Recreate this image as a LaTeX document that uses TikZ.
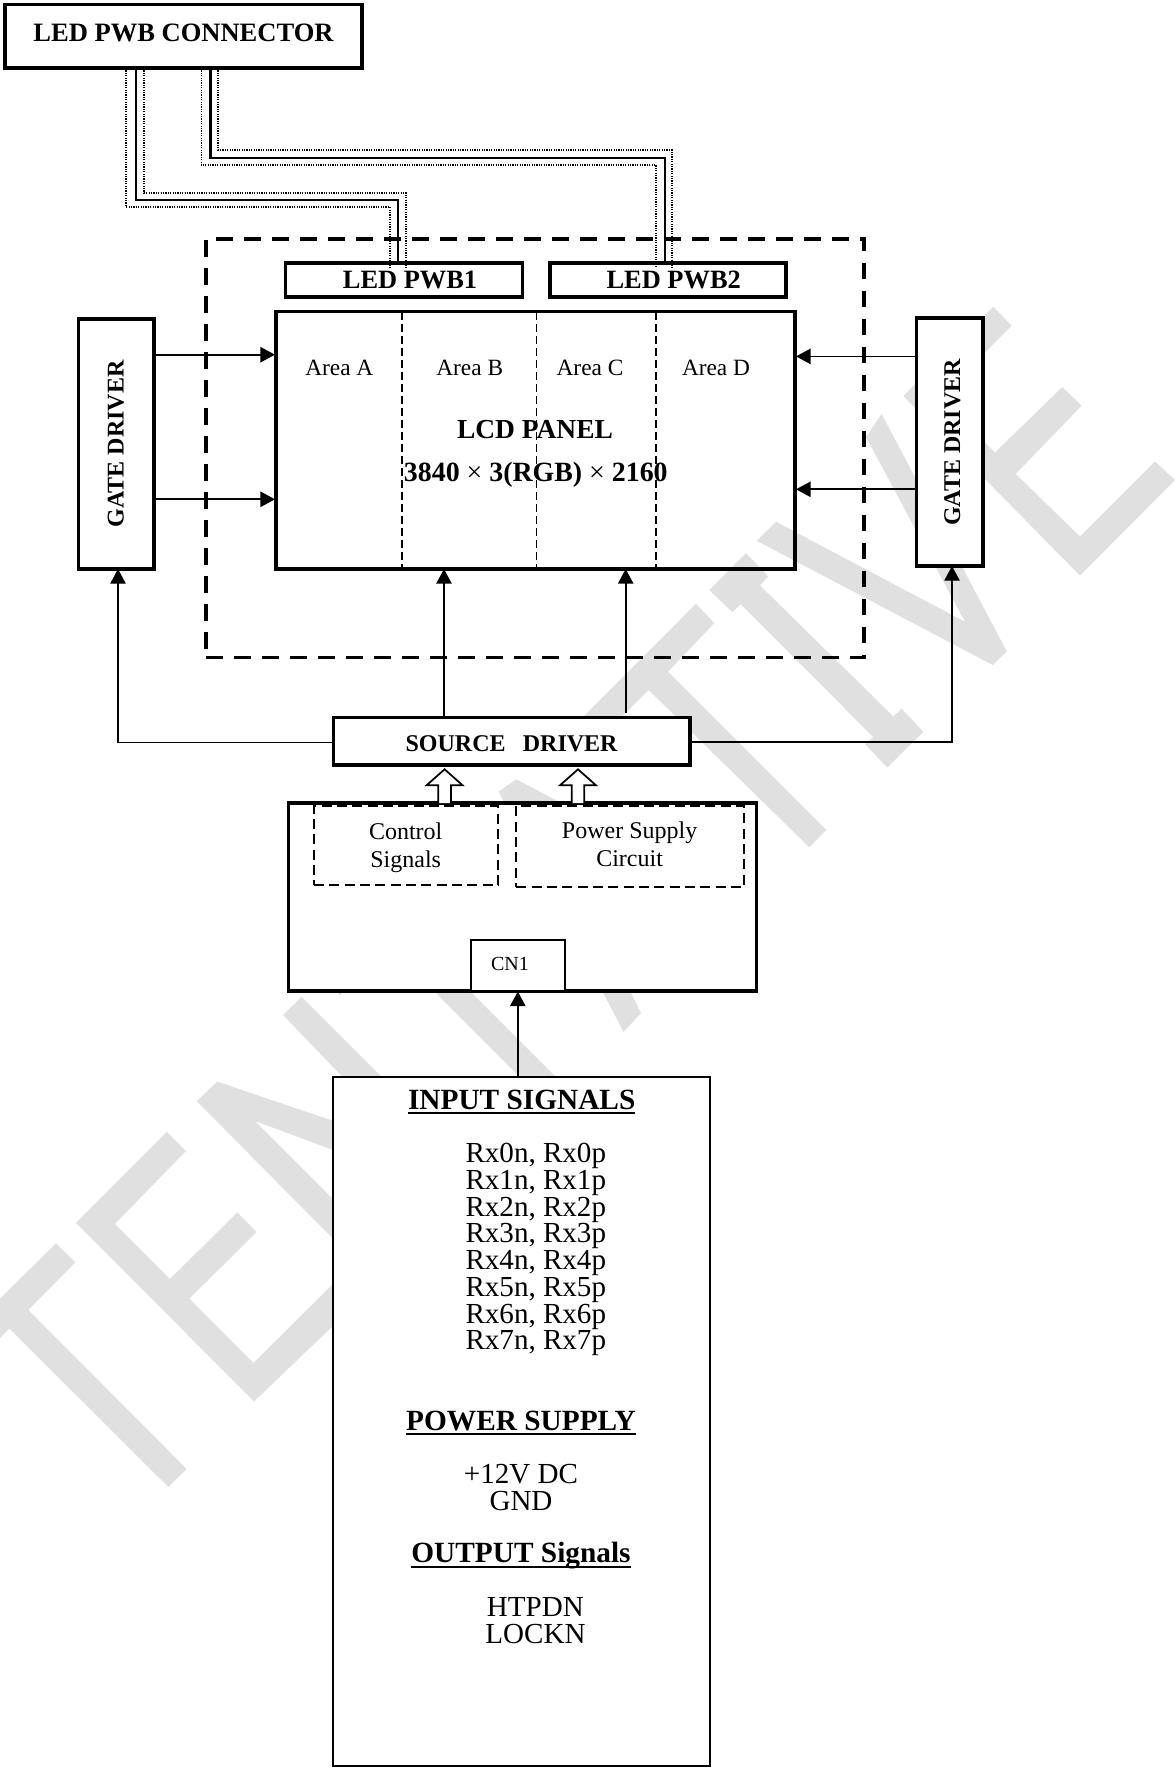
\documentclass[tikz,border=0pt]{standalone}
\usepackage{fontspec}
\setmainfont{Liberation Serif}
\usetikzlibrary{arrows.meta,calc}
\definecolor{wmgray}{RGB}{224,224,224}
\newcommand{\fsz}[1]{\fontsize{#1}{#1}\selectfont}
\newcommand{\ulx}[1]{\setbox0\hbox{#1}\rlap{\rule[-3.9pt]{\wd0}{1.5pt}}\box0}
\tikzset{
  wh/.style 2 args={minimum width=#1*0.75pt,minimum height=#2*0.75pt},
  allbox/.style={rectangle,inner sep=0pt,outer sep=0pt,draw=black},
  thickbox/.style={allbox,fill=white,line width=2.6pt},
  midbox/.style={allbox,fill=white,line width=2.6pt},
  thinbox/.style={allbox,fill=white,line width=1.4pt},
  outerdash/.style={allbox,line width=2.7pt,dash pattern=on 12.5pt off 8.5pt},
  innerdash/.style={allbox,line width=1.6pt,dash pattern=on 7.5pt off 4pt},
  areadash/.style={line width=1.1pt,dash pattern=on 6pt off 3pt},
  lab/.style={inner sep=0pt,outer sep=0pt,anchor=base},
  arr/.style={line width=1.3pt,-{Triangle[length=11pt,width=11.5pt]}},
  arrthin/.style={line width=1.0pt,-{Triangle[length=11pt,width=11.5pt]}},
  wire/.style={line width=1.7pt},
  dotwire/.style={line width=.8pt,dash pattern=on .9pt off .9pt},
  hollow/.style={line width=1.3pt,fill=white,draw=black},
  wm/.style={fill=wmgray,draw=none}
}
\begin{document}
\begin{tikzpicture}[x=0.75pt,y=-0.75pt]
\useasboundingbox (0,0) rectangle (1175,1769);
% watermark
\fill[wm] (0,1298.5)--(56,1243.4)--(75.3,1262.4)--(28.3,1310)--(186.7,1469)--(168.3,1487)--(9.3,1328.5)--(0,1338)--cycle;
\fill[wm] (166.7,1131.9)--(186,1151)--(115,1223.8)--(170,1278.9)--(237.3,1212.4)--(256.7,1232)--(189.3,1298.5)--(253.3,1363)--(345,1272)--(360,1300)--(254,1401.5)--(76,1222.8)--cycle;
\fill[wm] (217.3,1081.6)--(360,1130)--(360,1160)--(255,1121)--(360,1226)--(360,1266)--(196.7,1101.2)--cycle;
\fill[wm] (301.7,996.7)--(400,1095)--(360,1095)--(283,1015)--cycle;
\fill[wm] (340,995)--(389,946)--(540,1097)--(576,1097)--(410,931)--(445,895)--(426,876)--(321,976)--cycle;
\fill[wm] (696,603.7)--(714.4,623)--(668,671.7)--(826.4,830)--(809.3,847.3)--(648.6,690)--(601,737)--(582,718)--cycle;
\fill[wm] (516.4,779.3)--(752,904)--(733,923)--(545,822)--(641,1013)--(623.6,1032)--(498.6,791.7)--cycle;
\fill[wm] (746,553.2)--(768.3,576.4)--(760,585.4)--(893.3,716.4)--(901.7,708.6)--(923.3,731.8)--(887.3,767.5)--(865,744.3)--(873.3,737.1)--(740.7,604.3)--(732.3,612.1)--(709.3,590)--cycle;
\fill[wm] (881.7,414)--(1006.7,651.4)--(992.7,665)--(756.7,540.7)--(776,521.8)--(965,621.8)--(866,437)--cycle;
\fill[wm] (993.3,306.8)--(1011.7,325.7)--(940,397.4)--(995,452.5)--(1062.3,387)--(1081.7,405.7)--(1015.7,473.9)--(1080,536.4)--(1155,461.4)--(1175,480)--(1080,575.7)--(903.3,396)--cycle;

% frames
\node[outerdash,wh={658}{418.5}] (region) at (535,448.2) {};
\node[thickbox,wh={357.2}{63.3}] (conn) at (183.4,36.35) {};
\node[midbox,wh={237}{34}] (pwbA) at (404,280) {};
\node[midbox,wh={236}{34}] (pwbB) at (668,280) {};
\node[allbox,line width=2.6pt,wh={519}{257.3}] (lcd) at (535.5,440.4) {};
\node[thickbox,wh={75.5}{250}] (gateL) at (116.2,444) {};
\node[thickbox,wh={66.3}{248}] (gateR) at (949.8,442) {};
\node[thickbox,wh={356.4}{47.3}] (src) at (511.8,741.4) {};
\node[thickbox,wh={467.8}{188}] (main) at (522.5,897) {};
\node[innerdash,wh={184}{79}] (ctrl) at (406,845.5) {};
\node[innerdash,wh={227.6}{81}] (psu) at (630.2,846.5) {};
\node[thinbox,wh={94.3}{51}] (cn) at (517.8,965.5) {};
\node[allbox,fill=white,line width=1.4pt,wh={377.5}{689}] (input) at (521.4,1421.5) {};

% area dividers
\coordinate (a1) at (402,0); \coordinate (a2) at (536.5,0); \coordinate (a3) at (656,0);
\draw[areadash] (lcd.north -| a1) -- (lcd.south -| a1);
\draw[areadash] (lcd.north -| a2) -- (lcd.south -| a2);
\draw[areadash] (lcd.north -| a3) -- (lcd.south -| a3);

% LED wires
\coordinate (w1) at (136,200); \coordinate (w2) at (398,200);
\draw[wire] (conn.south -| w1) -- (w1) -- (w2) -- (pwbA.north -| w2);
\coordinate (w3) at (210.5,158); \coordinate (w4) at (665,158);
\draw[wire] (conn.south -| w3) -- (w3) -- (w4) -- (pwbB.north -| w4);
\coordinate (p1) at (126,207); \coordinate (p2) at (390,207); \coordinate (p2e) at (390,268);
\draw[dotwire] (conn.south -| p1) -- (p1) -- (p2) -- (p2e);
\coordinate (p3) at (144,193); \coordinate (p4) at (406,193); \coordinate (p4e) at (406,268);
\draw[dotwire] (conn.south -| p3) -- (p3) -- (p4) -- (p4e);
\coordinate (p5) at (201.4,165); \coordinate (p6) at (656,165); \coordinate (p6e) at (656,267);
\draw[dotwire] (conn.south -| p5) -- (p5) -- (p6) -- (p6e);
\coordinate (p7) at (218,150); \coordinate (p8) at (672,150); \coordinate (p8e) at (672,267);
\draw[dotwire] (conn.south -| p7) -- (p7) -- (p8) -- (p8e);

% gate arrows
\coordinate (g1) at (0,354.7); \coordinate (g2) at (0,499.3); \coordinate (g3) at (0,356.4); \coordinate (g4) at (0,489.3);
\draw[arr] (gateL.east |- g1) -- ($(lcd.west |- g1)+(-1,0)$);
\draw[arr] (gateL.east |- g2) -- ($(lcd.west |- g2)+(-1,0)$);
\draw[arr] (gateR.west |- g3) -- ($(lcd.east |- g3)+(1,0)$);
\draw[arr] (gateR.west |- g4) -- ($(lcd.east |- g4)+(1,0)$);

% source driver connections
\coordinate (s1) at (444,0); \coordinate (s2) at (625.7,0); \coordinate (s2e) at (625.7,713);
\coordinate (l1) at (118,742.4); \coordinate (r1) at (952,742);
\draw[arr] (src.north -| s1) -- (lcd.south -| s1);
\draw[arr] (s2e) -- (lcd.south -| s2);
\draw[arrthin] (src.west |- l1) -- (l1) -- (gateL.south -| l1);
\draw[arrthin] (src.east |- r1) -- (r1) -- (gateR.south -| r1);

% hollow arrows
\coordinate (h1) at (444.6,0); \coordinate (h2) at (578,0);
\draw[hollow] ($(main.north -| h1)+(-6.3,0)$) -- ++(0,-17.7) -- ++(-11.7,0) -- ++(18,-16) -- ++(18,16) -- ++(-11.7,0) -- ++(0,17.7);
\draw[hollow] ($(main.north -| h2)+(-6.3,0)$) -- ++(0,-17.7) -- ++(-11.7,0) -- ++(18,-16) -- ++(18,16) -- ++(-11.7,0) -- ++(0,17.7);

% input arrow
\draw[arr] (input.north -| cn.south) -- ($(main.south -| cn.south)+(0,0.5)$);

% labels
\node[lab,font=\bfseries\fsz{19.9}] (tconn) at (183.5,41.7) {LED PWB CONNECTOR};
\node[lab,font=\bfseries\fsz{19.8}] (tpa) at (410,288) {LED PWB1};
\node[lab,font=\bfseries\fsz{19.8}] (tpb) at (673.7,288) {LED PWB2};
\node[lab,font=\fsz{17.5}] (ta) at (339.3,375) {Area A};
\node[lab,font=\fsz{17.5}] (tb) at (469.7,375) {Area B};
\node[lab,font=\fsz{17.5}] (tc) at (590,375) {Area C};
\node[lab,font=\fsz{17.5}] (td) at (716,375) {Area D};
\node[lab,font=\bfseries\fsz{20.6}] (tl1) at (535,438) {LCD PANEL};
\node[lab,font=\bfseries\fsz{20.9}] (tl2) at (535.8,481) {3840 {\mdseries ×} 3(RGB) {\mdseries ×} 2160};
\node[lab,rotate=90,font=\bfseries\fsz{18}] (tgl) at (123.6,443.8) {GATE DRIVER};
\node[lab,rotate=90,font=\bfseries\fsz{18}] (tgr) at (960,442.5) {GATE DRIVER};
\node[lab,font=\bfseries\fsz{18}] (tsrc) at (511.6,751.7) {SOURCE\hspace{.72em}DRIVER};
\node[lab,font=\fsz{18}] (tc1) at (405.7,839.3) {Control};
\node[lab,font=\fsz{18}] (tc2) at (405.7,867.3) {Signals};
\node[lab,font=\fsz{18}] (tp1) at (629.6,838) {Power Supply};
\node[lab,font=\fsz{18}] (tp2) at (629.6,866) {Circuit};
\node[lab,font=\fsz{15}] (tcn) at (510,970.5) {CN1};
\node[lab,font=\bfseries\fsz{22}] (ti) at (521.7,1109) {\ulx{INPUT SIGNALS}};
\foreach \i in {0,...,7}
  \node[lab,font=\fsz{21.8}] (rx\i) at (535.8,1162.7+26.75*\i) {Rx\i n, Rx\i p};
\node[lab,font=\bfseries\fsz{22}] (tps) at (521,1430) {\ulx{POWER SUPPLY}};
\node[lab,font=\fsz{21.8}] (t12) at (521,1483) {+12V DC};
\node[lab,font=\fsz{21.8}] (tgnd) at (521,1510) {GND};
\node[lab,font=\bfseries\fsz{22}] (tout) at (521,1562.6) {\ulx{OUTPUT Signals}};
\node[lab,font=\fsz{21.8}] (thp) at (535.3,1616) {HTPDN};
\node[lab,font=\fsz{21.8}] (tlo) at (535.5,1643) {LOCKN};
\end{tikzpicture}
\end{document}
